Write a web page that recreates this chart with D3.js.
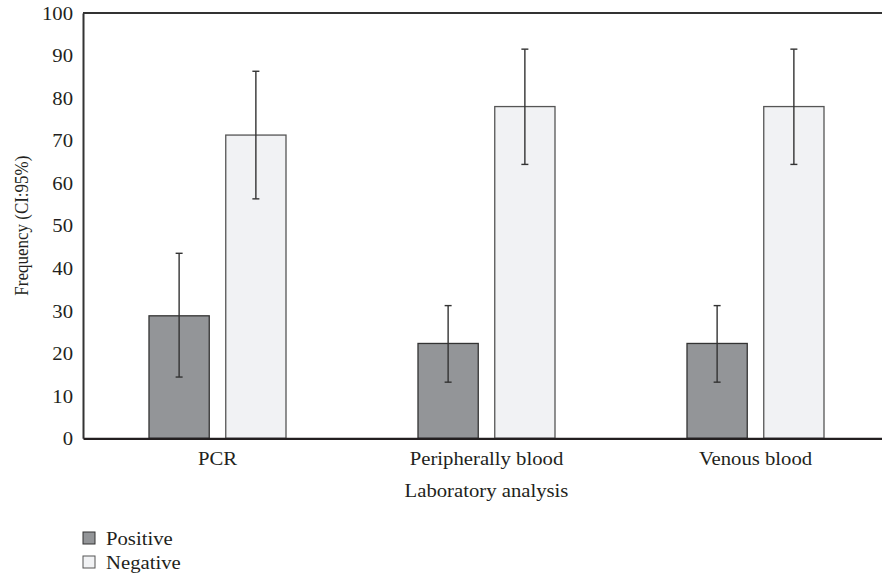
<!DOCTYPE html>
<html>
<head>
<meta charset="utf-8">
<script src="https://cdn.jsdelivr.net/npm/d3@7"></script>
<style>
  body { margin: 0; background: #fff; }
  svg { display: block; }
  svg text { font-family: "Liberation Serif", "DejaVu Serif", serif; fill: #231f20; }
  .axis text { font-size: 18px; }
  .label { font-size: 18px; }
</style>
</head>
<body>
<div id="chart"></div>
<script>
var categories = ["PCR", "Peripherally blood", "Venous blood"];
var groups = ["Positive", "Negative"];

// frequency (%) with 95% CI
var positive = [28.8, 22.3, 22.3],
    positiveLow = [14.4, 13.2, 13.2],
    positiveHigh = [43.5, 31.2, 31.2];
var negative = [71.3, 78.0, 78.0],
    negativeLow = [56.3, 64.4, 64.4],
    negativeHigh = [86.3, 91.5, 91.5];

var yTicks = [0, 10, 20, 30, 40, 50, 60, 70, 80, 90, 100];

var colors = {Positive: "#939598", Negative: "#f1f2f4"},
    strokes = {Positive: "#333333", Negative: "#555555"};

var W = 882, H = 576;
var margin = {top: 13, left: 83, bottom: 138};
// the source figure is a little stretched sideways
var stretch = 1.15;

var svg = d3.select("#chart")
    .append("svg")
    .attr("width", W)
    .attr("height", H);

var x0 = d3.scaleBand()
    .domain(categories)
    .range([margin.left, margin.left + 807]);

var x1 = d3.scaleBand()
    .domain(groups)
    .range([66, x0.bandwidth() - 66])
    .paddingInner(0.215);

var y = d3.scaleLinear()
    .domain([0, 100])
    .range([H - margin.bottom + 0.3, margin.top]);

var rows = [];
categories.forEach(function (c, i) {
    rows.push({cat: c, group: "Positive", v: positive[i], lo: positiveLow[i], hi: positiveHigh[i]});
    rows.push({cat: c, group: "Negative", v: negative[i], lo: negativeLow[i], hi: negativeHigh[i]});
});

// bars
svg.selectAll(".bar")
    .data(rows)
    .enter()
    .append("rect")
    .attr("class", "bar")
    .attr("x", function (d) { return x0(d.cat) + x1(d.group); })
    .attr("y", function (d) { return y(d.v); })
    .attr("width", x1.bandwidth())
    .attr("height", function (d) { return y(0) - y(d.v); })
    .style("fill", function (d) { return colors[d.group]; })
    .style("stroke", function (d) { return strokes[d.group]; })
    .style("stroke-width", 1.3);

// error bars
var err = svg.selectAll(".err")
    .data(rows)
    .enter()
    .append("g")
    .attr("class", "err")
    .attr("transform", function (d) {
        return "translate(" + (x0(d.cat) + x1(d.group) + x1.bandwidth() / 2) + ",0)";
    })
    .style("stroke", "#333")
    .style("stroke-width", 1.4);

err.append("line")
    .attr("y1", function (d) { return y(d.lo); })
    .attr("y2", function (d) { return y(d.hi); });
err.append("line")
    .attr("x1", -3.5).attr("x2", 3.5)
    .attr("y1", function (d) { return y(d.lo); })
    .attr("y2", function (d) { return y(d.lo); });
err.append("line")
    .attr("x1", -3.5).attr("x2", 3.5)
    .attr("y1", function (d) { return y(d.hi); })
    .attr("y2", function (d) { return y(d.hi); });

// frame
svg.append("line")
    .attr("x1", margin.left).attr("x2", W)
    .attr("y1", y(100)).attr("y2", y(100))
    .style("stroke", "#333").style("stroke-width", 2);

svg.append("g")
    .attr("class", "y axis")
    .attr("transform", "translate(" + margin.left + ",0)")
    .call(d3.axisLeft(y).tickValues(yTicks).tickSize(0).tickPadding(10))
    .call(function (g) {
        g.select(".domain").style("stroke", "#333").style("stroke-width", 2);
        g.selectAll("text").attr("dy", "0.35em");
    });

svg.append("g")
    .attr("class", "x axis")
    .attr("transform", "translate(0," + y(0) + ")")
    .call(d3.axisBottom(x0).tickSize(0).tickPadding(14))
    .call(function (g) {
        g.select(".domain").style("stroke", "#231f20").style("stroke-width", 2.2);
    });

svg.append("text")
    .attr("class", "label")
    .attr("x", x0(categories[1]) + x0.bandwidth() / 2)
    .attr("y", 497)
    .attr("text-anchor", "middle")
    .text("Laboratory analysis");

// legend
var legend = svg.selectAll(".legend")
    .data(groups)
    .enter()
    .append("g")
    .attr("class", "legend")
    .attr("transform", function (d, i) { return "translate(83," + (532 + i * 24) + ")"; });

legend.append("rect")
    .attr("width", 12)
    .attr("height", 12)
    .style("fill", function (d) { return colors[d]; })
    .style("stroke", function (d) { return strokes[d]; })
    .style("stroke-width", 1);

legend.append("text")
    .attr("class", "label")
    .attr("x", 23)
    .attr("y", 13)
    .text(String);

// widen the horizontal texts
svg.selectAll("text").each(function () {
    var w = this.getComputedTextLength();
    d3.select(this)
        .attr("textLength", w * stretch)
        .attr("lengthAdjust", "spacingAndGlyphs");
});

svg.append("text")
    .attr("class", "label")
    .style("font-size", "17px")
    .attr("transform", "translate(28," + y(50) + ") scale(" + stretch + ",1) rotate(-90)")
    .attr("text-anchor", "middle")
    .text("Frequency (CI:95%)");
</script>
</body>
</html>
